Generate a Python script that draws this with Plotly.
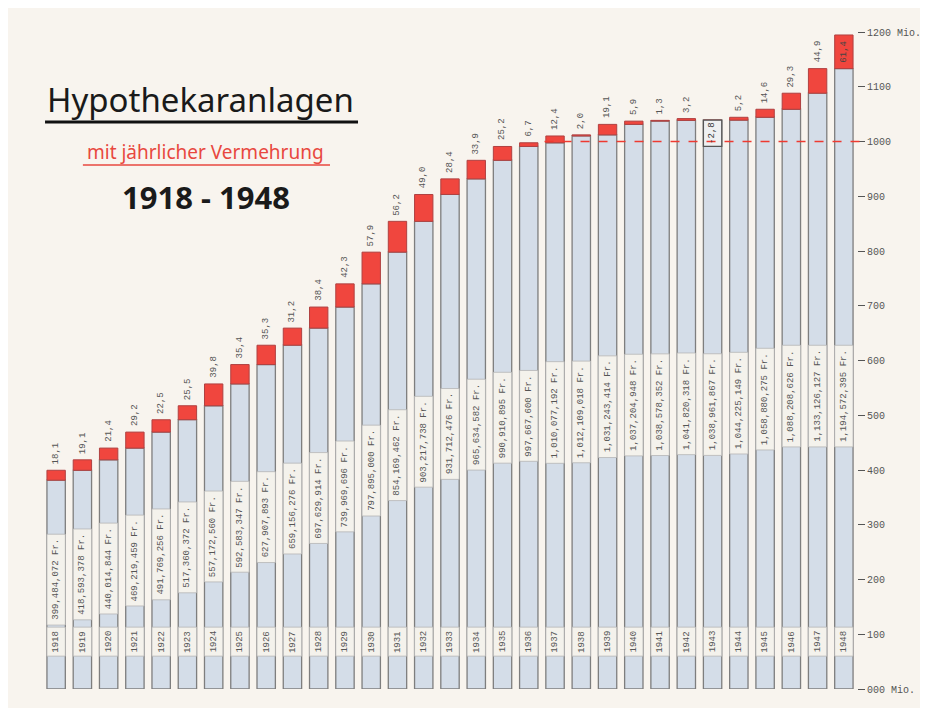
import plotly.graph_objects as go

years = list(range(1918, 1949))
totals = [399484072, 418593378, 440014844, 469219459, 491769256, 517360372,
          557172560, 592583347, 627907893, 659156276, 697629914, 739969696,
          797895000, 854169462, 903217738, 931712476, 965634582, 990910895,
          997667600, 1010077192, 1012109018, 1031243414, 1037204948, 1038578352,
          1041820318, 1038961867, 1044225149, 1058880275, 1088208626, 1133126127,
          1194572395]
increments = [18.1, 19.1, 21.4, 29.2, 22.5, 25.5, 39.8, 35.4, 35.3, 31.2, 38.4,
              42.3, 57.9, 56.2, 49.0, 28.4, 33.9, 25.2, 6.7, 12.4, 2.0, 19.1,
              5.9, 1.3, 3.2, -2.8, 5.2, 14.6, 29.3, 44.9, 61.4]
tick_vals = list(range(0, 1300, 100))
tick_text = ["000 Mio."] + [str(v) for v in tick_vals[1:-1]] + ["1200 Mio."]

BG = "#f8f4ee"
BAR = "#d4dde8"
EDGE = "#7e7e7e"
BOX = "#f4f2ec"
RED = "#f0463e"
MONO = "Liberation Mono"

tot_mio = [t / 1e6 for t in totals]
pos_inc = [max(i, 0) for i in increments]
base_h = [t - p for t, p in zip(tot_mio, pos_inc)]
val_txt = ["{:,} Fr.".format(t) for t in totals]
inc_txt = ["{:.1f}".format(i).replace(".", ",") for i in increments]

px_per_unit = 657 / 1200.0
val_h = [len(s) * 5.4 / px_per_unit + 18 for s in val_txt]
val_c = [min(0.5 * t, 535) for t in tot_mio]
val_base = [c - h / 2 for c, h in zip(val_c, val_h)]

fig = go.Figure()
fig.add_trace(go.Bar(x=years, y=base_h, base=[0] * len(years),
                     marker=dict(color=BAR, line=dict(color=EDGE, width=1.3)),
                     hoverinfo="skip"))
fig.add_trace(go.Bar(x=years, y=pos_inc, base=base_h,
                     marker=dict(color=RED, line=dict(color="#b04040", width=1)),
                     hoverinfo="skip"))
fig.add_trace(go.Bar(x=years, y=val_h, base=val_base,
                     marker=dict(color=BOX, line=dict(color="#b5b5b5", width=0.8)),
                     hoverinfo="skip"))
fig.add_trace(go.Bar(x=years, y=[53] * len(years), base=[60] * len(years),
                     marker=dict(color=BOX, line=dict(color="#b5b5b5", width=0.8)),
                     hoverinfo="skip"))
neg_x = [y for y, i in zip(years, increments) if i < 0]
neg_top = [t for t, i in zip(tot_mio, increments) if i < 0]
fig.add_trace(go.Bar(x=neg_x, y=[48] * len(neg_x), base=[t - 48 for t in neg_top],
                     marker=dict(color="#eef0f1", line=dict(color="#555555", width=1.3)),
                     hoverinfo="skip"))

ann = []
for yr, t, inc, it, vt, vc in zip(years, tot_mio, increments, inc_txt, val_txt, val_c):
    ann.append(dict(x=yr, y=vc, text=vt, textangle=-90, showarrow=False,
                    font=dict(family=MONO, size=9, color="#555555"),
                    xanchor="center", yanchor="middle"))
    ann.append(dict(x=yr, y=86.5, text=str(yr), textangle=-90, showarrow=False,
                    font=dict(family=MONO, size=9, color="#555555"),
                    xanchor="center", yanchor="middle"))
    if inc < 0:
        ann.append(dict(x=yr, y=t - 24, text=it, textangle=-90, showarrow=False,
                        font=dict(family=MONO, size=9, color="#333333"),
                        xanchor="center", yanchor="middle"))
    elif t + 40 > 1200:
        ann.append(dict(x=yr, y=t - inc / 2, text=it, textangle=-90, showarrow=False,
                        font=dict(family=MONO, size=9, color="#444444"),
                        xanchor="center", yanchor="middle"))
    else:
        ann.append(dict(x=yr, y=t, text=it, textangle=-90, showarrow=False,
                        font=dict(family=MONO, size=9, color="#555555"),
                        xanchor="center", yanchor="bottom", yshift=4))

ann.append(dict(xref="paper", yref="paper", x=0.0025, y=0.8965, text="Hypothekaranlagen",
                showarrow=False, xanchor="left", yanchor="middle",
                font=dict(family="Noto Sans", size=33, color="#1a1a1a")))
ann.append(dict(xref="paper", yref="paper", x=0.2, y=0.818, text="mit jährlicher Vermehrung",
                showarrow=False, xanchor="center", yanchor="middle",
                font=dict(family="Noto Sans", size=19, color="#e8483f")))
ann.append(dict(xref="paper", yref="paper", x=0.2, y=0.749, text="<b>1918 - 1948</b>",
                showarrow=False, xanchor="center", yanchor="middle",
                font=dict(family="Noto Sans", size=31, color="#1a1a1a")))

shapes = [
    dict(type="line", xref="paper", yref="paper", x0=0.0025, x1=0.387, y0=0.863, y1=0.863,
         line=dict(color="#111111", width=3)),
    dict(type="line", xref="paper", yref="paper", x0=0.049, x1=0.3526, y0=0.7976, y1=0.7976,
         line=dict(color="#e8483f", width=1.3)),
    dict(type="line", xref="paper", yref="y", x0=(1936.6 - 1917.5) / 31, x1=1.005, y0=1000, y1=1000,
         line=dict(color="#ee3a30", width=1.5, dash="dash"), layer="above"),
]

fig.update_layout(
    width=928, height=708,
    margin=dict(l=35, r=79, t=24, b=27),
    paper_bgcolor=BG, plot_bgcolor=BG,
    barmode="overlay", bargap=0.30,
    showlegend=False,
    annotations=ann, shapes=shapes,
    xaxis=dict(range=[1917.5, 1948.5], visible=False),
    yaxis=dict(range=[0, 1200], side="right", tickvals=tick_vals, ticktext=tick_text,
               ticks="outside", ticklen=7, tickcolor="#555555", tickwidth=1,
               showgrid=False, zeroline=False, showline=False,
               tickfont=dict(family=MONO, size=10, color="#555555")),
)

fig.write_html("out.html")
